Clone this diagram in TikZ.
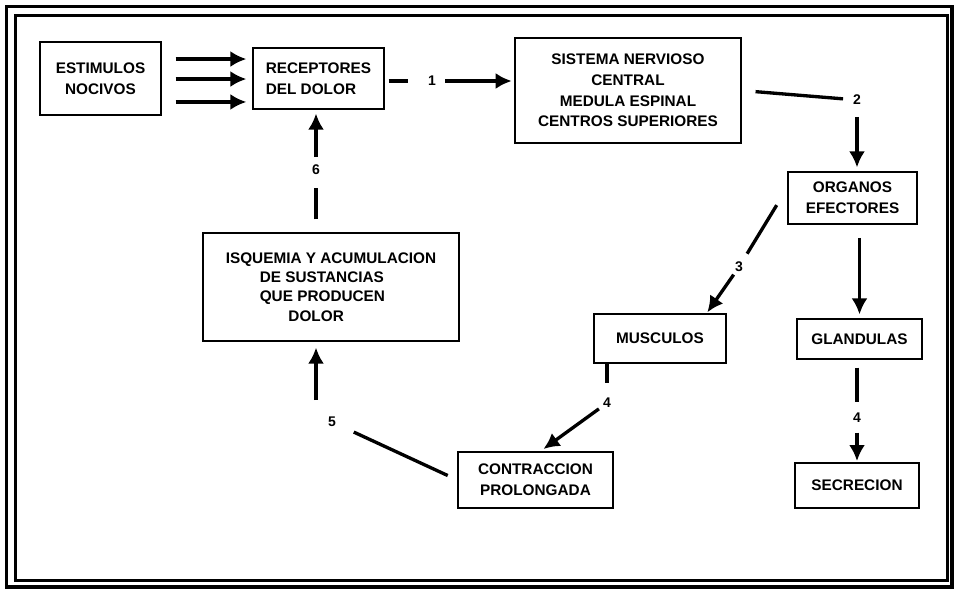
\documentclass[tikz,border=0pt]{standalone}
\usepackage{fontspec}
\setmainfont{Liberation Sans}
\usetikzlibrary{arrows.meta,calc}
\newcommand\boxfont{\fontsize{11.5}{15.5}\selectfont\bfseries}
\begin{document}
\begin{tikzpicture}[x=0.75pt,y=-0.75pt,
  box/.style={draw, line width=0.9pt, inner sep=0pt, align=center, font=\boxfont},
  lbl/.style={font=\fontsize{10.5}{11}\selectfont\bfseries, inner sep=0pt},
  conn/.style={line width=2.5pt},
  arr/.style={conn, -{Latex[length=12pt,width=12pt]}}]
\useasboundingbox (0,0) rectangle (954,592);
\fill[white] (0,0) rectangle (954,592);

% double frame
\draw[line width=2.3pt] (6.5,6.5) rectangle (952,587);
\draw[line width=2.3pt] (15.5,15.5) rectangle (947.5,580.5);

% boxes
\node[box, minimum width=90.75pt, minimum height=54.75pt] (estim) at (100.5,78.5) {ESTIMULOS\\NOCIVOS};
\node[box, align=left, minimum width=98.25pt, minimum height=45.75pt] (recep) at (318.5,78.5) {RECEPTORES\\DEL DOLOR};
\node[box, minimum width=169.5pt, minimum height=78.75pt] (snc) at (628,90.5) {SISTEMA NERVIOSO\\CENTRAL\\MEDULA ESPINAL\\CENTROS SUPERIORES};
\node[box, minimum width=96.75pt, minimum height=39pt] (organos) at (852.5,198) {ORGANOS\\EFECTORES};
\node[box, minimum width=99pt, minimum height=36.75pt] (musculos) at (660,338.5) {MUSCULOS};
\node[box, minimum width=93.75pt, minimum height=30pt] (glandulas) at (859.5,339) {GLANDULAS};
\node[box, minimum width=93pt, minimum height=33.75pt] (secrecion) at (857,485.5) {SECRECION};
\node[box, minimum width=116.25pt, minimum height=42pt] (contr) at (535.5,480) {CONTRACCION\\PROLONGADA};
\node[box, align=left, minimum width=192pt, minimum height=81pt,
      font=\fontsize{11.5}{14.5}\selectfont\bfseries] (isq) at (331,287)
  {ISQUEMIA Y ACUMULACION\\\hspace*{25.5pt}DE SUSTANCIAS\\\hspace*{25.5pt}QUE PRODUCEN\\\hspace*{47pt}DOLOR};

% stimuli into the receptors
\foreach \dy in {14.6,-0.4,-17.6}
  \draw[arr, shorten <=10.5pt, shorten >=4.5pt] ([yshift=\dy pt]estim.east) -- ([yshift=\dy pt]recep.west);

% 1: receptors -> central nervous system
\node[lbl] (l1) at (432,81) {1};
\draw[conn, shorten <=3pt, shorten >=18pt] (recep.east |- l1.center) -- (l1.center);
\draw[arr, shorten <=9.75pt, shorten >=2pt] (l1.center) -- (l1.center -| snc.west);

% 2: central nervous system -> effector organs
\node[lbl] (l2) at (857,100) {2};
\draw[conn, shorten <=10.5pt, shorten >=10.5pt] (snc.east) -- (l2.center);
\draw[arr, shorten <=12.75pt, shorten >=3pt] (l2.center) -- (l2.center |- organos.north);

% 3: effector organs -> muscles
\node[lbl] (l3) at (739,267) {3};
\draw[conn, shorten <=15.4pt, shorten >=11.7pt] ([yshift=7.8pt]organos.west) -- (l3.center);
\draw[arr, shorten <=7pt, shorten >=1pt] (l3.center) -- ([xshift=-15pt]musculos.north east);

% effector organs -> glands
\draw[arr, shorten <=10pt, shorten >=3pt] (organos.south -| glandulas.north) -- (glandulas.north);

% 4: glands -> secretion
\node[lbl] (l4b) at (857,418) {4};
\draw[conn, shorten <=6pt, shorten >=12pt] (glandulas.south -| l4b.center) -- (l4b.center);
\draw[arr, shorten <=11pt, shorten >=1pt] (l4b.center) -- (l4b.center |- secrecion.north);

% 4: muscles -> prolonged contraction
\node[lbl] (l4a) at (607,403) {4};
\draw[conn, shorten >=15pt] (l4a.center |- musculos.south) -- (l4a.center);
\draw[arr, shorten <=7.5pt, shorten >=3pt] (l4a.center) -- ([xshift=3.5pt]contr.north);

% 5: prolonged contraction -> ischaemia
\node[lbl] (l5) at (332,422) {5};
\draw[conn, shorten <=8pt, shorten >=18pt] (contr.west) -- (l5.center);
\draw[arr, shorten <=16.5pt, shorten >=4.5pt] ([xshift=-12pt]l5.center) -- ([xshift=-12pt]l5.center |- isq.south);

% 6: ischaemia -> receptors
\node[lbl] (l6) at (316,170) {6};
\draw[conn, shorten <=9.75pt, shorten >=13.5pt] (l6.center |- isq.north) -- (l6.center);
\draw[arr, shorten <=9.75pt, shorten >=3pt] (l6.center) -- (l6.center |- recep.south);
\end{tikzpicture}
\end{document}
